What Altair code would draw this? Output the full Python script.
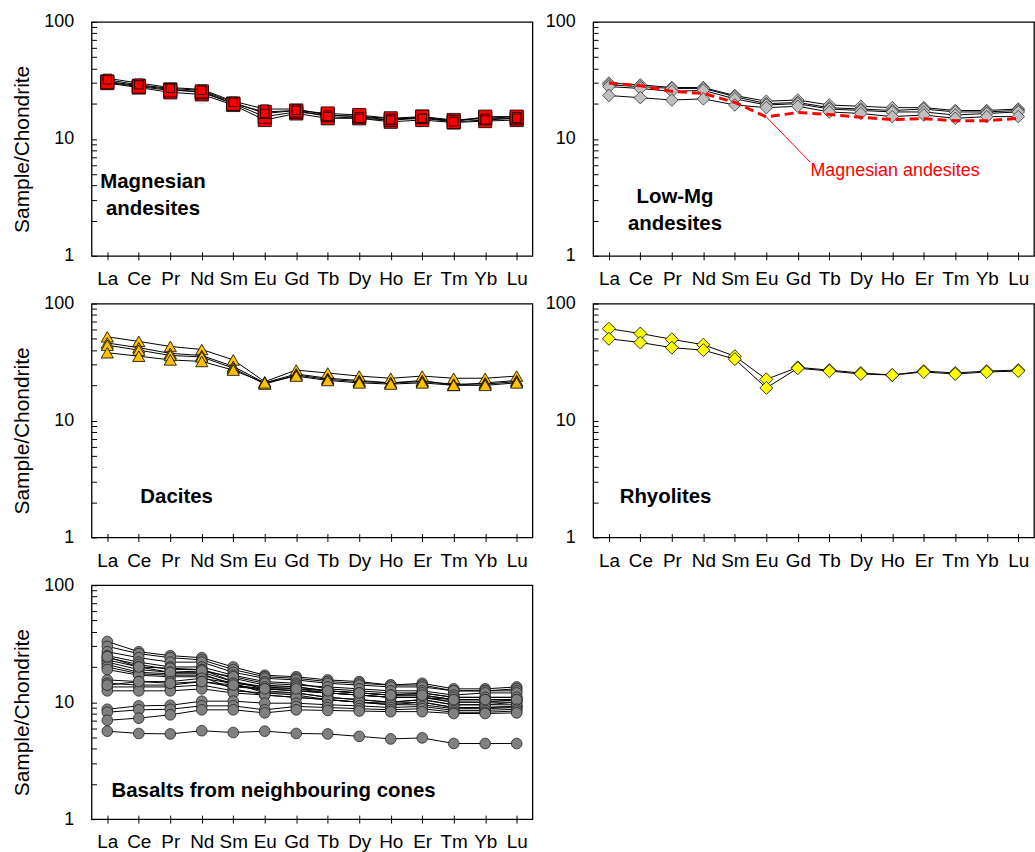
import altair as alt
import pandas as pd

ELEMENTS = ["La", "Ce", "Pr", "Nd", "Sm", "Eu", "Gd", "Tb", "Dy", "Ho", "Er", "Tm", "Yb", "Lu"]

# Magnesian andesites (red squares) - large markers
MG_AND_BIG = [
    [30.0, 27.5, 25.0, 24.0, 19.5, 14.5, 16.5, 15.0, 15.0, 14.0, 14.5, 13.8, 14.2, 14.5],
    [31.0, 28.5, 26.5, 25.0, 20.0, 15.5, 17.0, 16.0, 15.5, 14.5, 15.5, 14.5, 15.0, 15.0],
    [30.5, 28.0, 26.0, 25.5, 20.0, 17.0, 17.5, 16.5, 16.0, 15.0, 15.5, 14.0, 15.5, 15.5],
]
# Magnesian andesites - small markers
MG_AND_SMALL = [
    [33.0, 30.0, 27.5, 26.5, 21.0, 18.0, 18.0, 16.0, 15.5, 15.0, 15.0, 14.5, 15.0, 15.5],
    [32.0, 29.0, 27.0, 26.0, 20.5, 16.5, 17.5, 15.5, 15.0, 14.5, 15.0, 14.0, 14.5, 15.0],
]
# Low-Mg andesites (grey diamonds)
LOW_MG = [
    [30.0, 29.0, 27.5, 27.5, 23.5, 21.0, 21.5, 19.5, 19.0, 18.5, 18.5, 17.5, 17.5, 18.0],
    [29.0, 28.0, 27.0, 27.0, 23.0, 20.0, 20.5, 18.5, 18.0, 17.5, 18.0, 17.0, 17.0, 17.5],
    [28.0, 27.0, 25.5, 26.0, 22.0, 19.5, 20.0, 18.0, 17.5, 17.0, 17.0, 16.0, 16.5, 17.0],
    [23.5, 22.5, 21.5, 22.0, 19.5, 18.5, 19.0, 17.0, 16.5, 15.5, 16.0, 15.0, 15.5, 15.5],
]
# Average of Magnesian andesites (red dashed line in Low-Mg panel)
MG_AND_MEAN = [30.0, 28.5, 25.5, 24.5, 20.5, 15.4, 16.8, 16.2, 15.3, 14.6, 14.9, 14.3, 14.3, 15.0]

# Dacites (orange triangles)
DACITES = [
    [52.0, 47.5, 43.0, 40.5, 33.0, 21.5, 27.0, 25.5, 24.0, 23.0, 24.0, 23.0, 23.0, 24.0],
    [46.0, 42.0, 37.5, 36.0, 29.0, 21.0, 25.0, 23.0, 22.0, 21.0, 22.0, 20.0, 21.0, 22.0],
    [44.0, 40.0, 36.0, 35.0, 28.0, 20.5, 24.5, 22.5, 21.5, 21.0, 21.5, 20.5, 20.5, 21.5],
    [38.0, 35.5, 33.0, 32.0, 27.0, 21.0, 24.0, 22.0, 21.0, 20.5, 21.0, 20.0, 20.0, 21.0],
]
# Rhyolites (yellow diamonds)
RHYOLITES = [
    [61.0, 55.5, 49.5, 44.5, 35.5, 22.5, 28.5, 27.0, 25.5, 24.5, 26.5, 25.5, 26.5, 27.0],
    [50.0, 46.5, 42.0, 40.0, 33.5, 19.0, 28.0, 26.5, 25.0, 24.5, 26.0, 25.0, 26.0, 26.5],
]
# Basalts from neighbouring cones (grey circles)
BASALTS = [
    [33.0, 27.0, 25.0, 24.0, 20.0, 17.0, 16.5, 15.5, 15.0, 14.0, 14.5, 13.0, 13.0, 13.5],
    [30.0, 26.0, 24.0, 23.0, 19.0, 16.5, 16.0, 15.0, 14.5, 14.0, 14.0, 12.5, 12.5, 13.0],
    [27.0, 24.0, 22.0, 22.0, 18.0, 16.0, 15.5, 14.5, 14.0, 13.5, 13.5, 12.5, 12.5, 12.5],
    [25.0, 22.0, 20.0, 20.0, 17.0, 15.0, 14.5, 13.0, 12.5, 12.0, 12.0, 11.0, 11.0, 11.0],
    [24.0, 21.0, 19.0, 19.0, 16.0, 14.0, 13.5, 12.5, 12.0, 11.5, 11.5, 10.5, 10.5, 10.5],
    [23.0, 20.0, 19.5, 19.0, 15.0, 13.0, 12.5, 12.0, 11.5, 11.0, 11.0, 10.0, 10.0, 10.0],
    [22.0, 19.0, 18.0, 18.0, 15.0, 13.5, 13.0, 12.0, 11.5, 11.0, 11.0, 10.0, 10.0, 10.5],
    [21.0, 18.0, 17.5, 17.5, 14.0, 12.5, 12.0, 11.0, 10.5, 10.0, 10.5, 9.5, 9.5, 9.5],
    [20.0, 17.5, 17.0, 17.0, 14.5, 12.0, 11.5, 10.5, 10.0, 9.8, 10.0, 9.0, 9.0, 9.2],
    [19.0, 17.0, 16.5, 16.5, 13.0, 11.5, 11.0, 10.5, 10.0, 9.5, 9.5, 8.8, 8.8, 9.0],
    [24.5, 20.0, 18.0, 18.5, 16.5, 14.5, 14.0, 13.5, 13.0, 12.5, 12.5, 11.5, 12.0, 12.0],
    [15.5, 15.0, 15.0, 16.0, 14.5, 13.5, 13.5, 12.5, 12.0, 11.5, 12.0, 11.0, 11.0, 11.0],
    [14.5, 14.0, 14.0, 15.0, 13.5, 13.0, 12.5, 12.0, 11.5, 11.0, 11.0, 10.5, 10.5, 10.5],
    [13.5, 13.5, 13.5, 14.0, 12.5, 12.0, 12.0, 11.0, 10.5, 10.0, 10.5, 9.5, 9.5, 10.0],
    [12.5, 12.5, 12.5, 13.0, 12.0, 11.5, 11.0, 10.5, 10.0, 9.5, 10.0, 9.0, 9.0, 9.2],
    [14.0, 15.0, 14.5, 15.0, 14.0, 13.0, 13.0, 12.5, 12.0, 11.5, 11.5, 10.5, 10.5, 10.5],
    [8.7, 9.3, 9.4, 10.2, 10.2, 9.8, 9.8, 9.5, 9.3, 9.0, 9.2, 8.5, 8.5, 8.7],
    [8.2, 8.6, 8.7, 9.3, 9.3, 8.6, 9.2, 9.0, 8.8, 8.6, 8.8, 8.2, 8.2, 8.4],
    [7.0, 7.3, 7.8, 8.6, 8.6, 8.1, 8.6, 8.5, 8.4, 8.3, 8.3, 8.0, 8.0, 8.1],
    [5.65, 5.4, 5.35, 5.7, 5.5, 5.65, 5.4, 5.35, 5.1, 4.85, 4.95, 4.43, 4.43, 4.43],
]

Y_TICKS = [1, 2, 3, 4, 5, 6, 7, 8, 9, 10, 20, 30, 40, 50, 60, 70, 80, 90, 100]
Y_LABELED = [1, 10, 100]

# panel annotations: (element index position, value, text)
ANN_MG = {"idx": [1.45], "v": [4.3], "text": ["Magnesian\nandesites"]}
ANN_LOWMG = {"idx": [2.1], "v": [3.2], "text": ["Low-Mg\nandesites"]}
ANN_DAC = {"idx": [2.2], "v": [2.2], "text": ["Dacites"]}
ANN_RHY = {"idx": [1.8], "v": [2.2], "text": ["Rhyolites"]}
ANN_BAS = {"idx": [5.28], "v": [1.75], "text": ["Basalts from neighbouring cones"]}
ANN_RED_TEXT = {"idx": [6.4], "v": [5.3], "text": ["Magnesian andesites"]}
ANN_RED_LINE = {"idx": [5.0], "v": [15.4], "idx2": [6.4], "v2": [6.3]}

FONT = "Liberation Sans"
PW, PH = 443, 235

X_LABEL_EXPR = "[" + ",".join("'%s'" % e for e in ELEMENTS) + "][datum.value]"
Y_LABEL_EXPR = "indexof([%s], datum.value) >= 0 ? format(datum.value, 'd') : ''" % ",".join(str(v) for v in Y_LABELED)


def long_df(series, group):
    rows = []
    for i, s in enumerate(series):
        for j, v in enumerate(s):
            rows.append({"sample": "%s%d" % (group, i), "idx": j, "v": v})
    return pd.DataFrame(rows)


def x_enc():
    return alt.X(
        "idx:Q",
        scale=alt.Scale(domain=[-0.5, 13.5], nice=False, zero=False),
        axis=alt.Axis(values=list(range(14)), labelExpr=X_LABEL_EXPR, title=None, grid=False,
                      domain=False, tickSize=8, offset=-4, tickColor="black", tickWidth=1,
                      labelPadding=10, labelFontSize=19, labelFont=FONT, labelColor="black",
                      labelAngle=0, labelFlush=False, labelOverlap=False),
    )


def y_enc(show_title):
    if show_title:
        extra = dict(title="Sample/Chondrite", titleFont=FONT, titleFontSize=21,
                     titleFontWeight="normal", titleColor="black", titlePadding=11,
                     titleY=PH / 2 + 10)
    else:
        extra = dict(title=None)
    return alt.Y(
        "v:Q",
        scale=alt.Scale(type="log", domain=[1, 100], nice=False),
        axis=alt.Axis(values=Y_TICKS, labelExpr=Y_LABEL_EXPR, grid=False, domain=False,
                      tickSize=5, offset=-5, tickColor="black", tickWidth=1,
                      labelPadding=18, labelFontSize=18, labelFont=FONT, labelColor="black",
                      labelOverlap=False, labelFlush=False, **extra),
    )


def lines_layer(df, show_title):
    return alt.Chart(df).mark_line(color="black", strokeWidth=1).encode(
        x=x_enc(), y=y_enc(show_title), detail="sample:N")


def points_layer(df, show_title, shape, fill, size, stroke="black"):
    return alt.Chart(df).mark_point(shape=shape, filled=True, fill=fill, stroke=stroke,
                                    strokeWidth=0.8, size=size, opacity=1, fillOpacity=1,
                                    strokeOpacity=1).encode(
        x=x_enc(), y=y_enc(show_title), detail="sample:N")


def label_layer(ann, show_title):
    return alt.Chart(pd.DataFrame(ann)).mark_text(
        font=FONT, fontSize=20.5, fontWeight="bold", color="black", align="center",
        baseline="middle", lineBreak="\n", lineHeight=27).encode(
        x=x_enc(), y=y_enc(show_title), text="text:N")


# Panel 1: Magnesian andesites
df_big = long_df(MG_AND_BIG, "b")
df_small = long_df(MG_AND_SMALL, "s")
df_mg_all = pd.concat([df_big, df_small])
p1 = alt.layer(
    lines_layer(df_mg_all, True),
    points_layer(df_big, True, "square", "#FF0000", 175),
    points_layer(df_small, True, "square", "#FF0000", 70),
    label_layer(ANN_MG, True),
).properties(width=PW, height=PH)

# Panel 2: Low-Mg andesites
df_low = long_df(LOW_MG, "l")
df_mean = long_df([MG_AND_MEAN], "m")
p2 = alt.layer(
    lines_layer(df_low, False),
    points_layer(df_low, False, "diamond", "#BFBFBF", 160, stroke="#333333"),
    alt.Chart(df_mean).mark_line(color="#FF0000", strokeWidth=3, strokeDash=[9, 5]).encode(
        x=x_enc(), y=y_enc(False)),
    alt.Chart(pd.DataFrame(ANN_RED_LINE)).mark_rule(color="#FF0000", strokeWidth=1).encode(
        x=x_enc(), y=y_enc(False), x2="idx2:Q", y2="v2:Q"),
    alt.Chart(pd.DataFrame(ANN_RED_TEXT)).mark_text(
        font=FONT, fontSize=18, color="#FF0000", align="left", baseline="middle").encode(
        x=x_enc(), y=y_enc(False), text="text:N"),
    label_layer(ANN_LOWMG, False),
).properties(width=PW, height=PH)

# Panel 3: Dacites
df_dac = long_df(DACITES, "d")
p3 = alt.layer(
    lines_layer(df_dac, True),
    points_layer(df_dac, True, "triangle-up", "#FFC000", 150),
    label_layer(ANN_DAC, True),
).properties(width=PW, height=PH)

# Panel 4: Rhyolites
df_rhy = long_df(RHYOLITES, "r")
p4 = alt.layer(
    lines_layer(df_rhy, False),
    points_layer(df_rhy, False, "diamond", "#FFFF00", 170),
    label_layer(ANN_RHY, False),
).properties(width=PW, height=PH)

# Panel 5: Basalts
df_bas = long_df(BASALTS, "c")
p5 = alt.layer(
    lines_layer(df_bas, True),
    points_layer(df_bas, True, "circle", "#808080", 115, stroke="#222222"),
    label_layer(ANN_BAS, True),
).properties(width=PW, height=PH)

row1 = alt.hconcat(p1, p2, spacing=11)
row2 = alt.hconcat(p3, p4, spacing=11)

chart = alt.vconcat(row1, row2, p5, spacing=4).properties(
    padding={"left": 11, "top": 10, "right": 0, "bottom": 0},
    background="white",
).configure_view(stroke="black", strokeWidth=1.3)

chart.save("out.html", embed_options={"renderer": "svg", "actions": False})
